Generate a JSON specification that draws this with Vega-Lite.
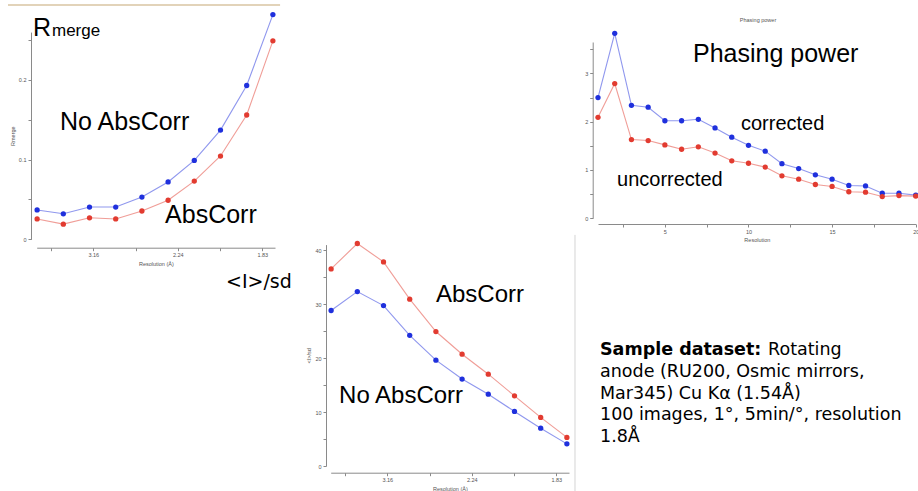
{
  "$schema": "https://vega.github.io/schema/vega-lite/v6.json",
  "width": 918,
  "height": 491,
  "autosize": "none",
  "padding": 0,
  "background": "white",
  "config": {
    "view": {"stroke": null},
    "font": "Liberation Sans",
    "axis": {
      "grid": false,
      "domainColor": "#8a8a8a",
      "tickColor": "#8a8a8a",
      "tickSize": 3,
      "labelFontSize": 5.5,
      "labelColor": "#555555",
      "labelPadding": 2,
      "titleFontSize": 5.5,
      "titleFontWeight": "normal",
      "titleColor": "#555555",
      "titlePadding": 3,
      "labelOverlap": false,
      "labelBound": false,
      "labelFlush": false
    }
  },
  "datasets": {
    "rmerge": [
      {"inv_d2": 0.0335, "rmerge": 0.0368, "series": "No AbsCorr"},
      {"inv_d2": 0.0645, "rmerge": 0.032, "series": "No AbsCorr"},
      {"inv_d2": 0.0955, "rmerge": 0.0405, "series": "No AbsCorr"},
      {"inv_d2": 0.1265, "rmerge": 0.0405, "series": "No AbsCorr"},
      {"inv_d2": 0.1575, "rmerge": 0.053, "series": "No AbsCorr"},
      {"inv_d2": 0.1885, "rmerge": 0.072, "series": "No AbsCorr"},
      {"inv_d2": 0.2195, "rmerge": 0.099, "series": "No AbsCorr"},
      {"inv_d2": 0.2505, "rmerge": 0.137, "series": "No AbsCorr"},
      {"inv_d2": 0.2815, "rmerge": 0.193, "series": "No AbsCorr"},
      {"inv_d2": 0.3125, "rmerge": 0.282, "series": "No AbsCorr"},
      {"inv_d2": 0.0335, "rmerge": 0.0255, "series": "AbsCorr"},
      {"inv_d2": 0.0645, "rmerge": 0.019, "series": "AbsCorr"},
      {"inv_d2": 0.0955, "rmerge": 0.027, "series": "AbsCorr"},
      {"inv_d2": 0.1265, "rmerge": 0.0255, "series": "AbsCorr"},
      {"inv_d2": 0.1575, "rmerge": 0.0355, "series": "AbsCorr"},
      {"inv_d2": 0.1885, "rmerge": 0.049, "series": "AbsCorr"},
      {"inv_d2": 0.2195, "rmerge": 0.073, "series": "AbsCorr"},
      {"inv_d2": 0.2505, "rmerge": 0.1045, "series": "AbsCorr"},
      {"inv_d2": 0.2815, "rmerge": 0.156, "series": "AbsCorr"},
      {"inv_d2": 0.3125, "rmerge": 0.249, "series": "AbsCorr"}
    ],
    "rmerge_big": [
      {"label": "R", "inv_d2": 0.0286, "rmerge": 0.2555},
      {"label": "No AbsCorr", "inv_d2": 0.0606, "rmerge": 0.137},
      {"label": "AbsCorr", "inv_d2": 0.1849, "rmerge": 0.02}
    ],
    "rmerge_sub": [
      {"label": "merge", "inv_d2": 0.0511, "rmerge": 0.2555}
    ],
    "rmerge_frame": [
      {"inv_d2": -0.001, "inv_d2_end": 0.321, "rmerge": 0.294}
    ],
    "phasing": [
      {"bin": 1, "phasing_power": 2.5, "series": "corrected"},
      {"bin": 2, "phasing_power": 3.83, "series": "corrected"},
      {"bin": 3, "phasing_power": 2.34, "series": "corrected"},
      {"bin": 4, "phasing_power": 2.3, "series": "corrected"},
      {"bin": 5, "phasing_power": 2.02, "series": "corrected"},
      {"bin": 6, "phasing_power": 2.02, "series": "corrected"},
      {"bin": 7, "phasing_power": 2.05, "series": "corrected"},
      {"bin": 8, "phasing_power": 1.87, "series": "corrected"},
      {"bin": 9, "phasing_power": 1.68, "series": "corrected"},
      {"bin": 10, "phasing_power": 1.51, "series": "corrected"},
      {"bin": 11, "phasing_power": 1.39, "series": "corrected"},
      {"bin": 12, "phasing_power": 1.13, "series": "corrected"},
      {"bin": 13, "phasing_power": 1.03, "series": "corrected"},
      {"bin": 14, "phasing_power": 0.9, "series": "corrected"},
      {"bin": 15, "phasing_power": 0.81, "series": "corrected"},
      {"bin": 16, "phasing_power": 0.68, "series": "corrected"},
      {"bin": 17, "phasing_power": 0.67, "series": "corrected"},
      {"bin": 18, "phasing_power": 0.52, "series": "corrected"},
      {"bin": 19, "phasing_power": 0.52, "series": "corrected"},
      {"bin": 20, "phasing_power": 0.48, "series": "corrected"},
      {"bin": 1, "phasing_power": 2.09, "series": "uncorrected"},
      {"bin": 2, "phasing_power": 2.79, "series": "uncorrected"},
      {"bin": 3, "phasing_power": 1.63, "series": "uncorrected"},
      {"bin": 4, "phasing_power": 1.61, "series": "uncorrected"},
      {"bin": 5, "phasing_power": 1.52, "series": "uncorrected"},
      {"bin": 6, "phasing_power": 1.43, "series": "uncorrected"},
      {"bin": 7, "phasing_power": 1.48, "series": "uncorrected"},
      {"bin": 8, "phasing_power": 1.35, "series": "uncorrected"},
      {"bin": 9, "phasing_power": 1.19, "series": "uncorrected"},
      {"bin": 10, "phasing_power": 1.14, "series": "uncorrected"},
      {"bin": 11, "phasing_power": 1.06, "series": "uncorrected"},
      {"bin": 12, "phasing_power": 0.88, "series": "uncorrected"},
      {"bin": 13, "phasing_power": 0.81, "series": "uncorrected"},
      {"bin": 14, "phasing_power": 0.7, "series": "uncorrected"},
      {"bin": 15, "phasing_power": 0.66, "series": "uncorrected"},
      {"bin": 16, "phasing_power": 0.55, "series": "uncorrected"},
      {"bin": 17, "phasing_power": 0.54, "series": "uncorrected"},
      {"bin": 18, "phasing_power": 0.45, "series": "uncorrected"},
      {"bin": 19, "phasing_power": 0.47, "series": "uncorrected"},
      {"bin": 20, "phasing_power": 0.46, "series": "uncorrected"}
    ],
    "phasing_big": [
      {"label": "Phasing power", "bin": 6.68, "phasing_power": 3.24}
    ],
    "phasing_mid": [
      {"label": "corrected", "bin": 9.55, "phasing_power": 1.83},
      {"label": "uncorrected", "bin": 2.14, "phasing_power": 0.67}
    ],
    "phasing_title": [
      {"label": "Phasing power", "bin": 10.57, "phasing_power": 4.07}
    ],
    "note_bold": [
      {"label": "Sample dataset:", "bin": 1.12, "phasing_power": -2.83}
    ],
    "note_text": [
      {"label": "Rotating", "bin": 11.17, "phasing_power": -2.83},
      {"label": "anode (RU200, Osmic mirrors,", "bin": 1.12, "phasing_power": -3.286},
      {"label": "Mar345)  Cu Kα (1.54Å)", "bin": 1.12, "phasing_power": -3.741},
      {"label": "100 images, 1°, 5min/°, resolution", "bin": 1.12, "phasing_power": -4.176},
      {"label": "1.8Å", "bin": 1.12, "phasing_power": -4.631}
    ],
    "isd": [
      {"inv_d2": 0.0335, "i_sigma": 36.5, "series": "AbsCorr"},
      {"inv_d2": 0.0645, "i_sigma": 41.2, "series": "AbsCorr"},
      {"inv_d2": 0.0955, "i_sigma": 37.8, "series": "AbsCorr"},
      {"inv_d2": 0.1265, "i_sigma": 30.9, "series": "AbsCorr"},
      {"inv_d2": 0.1575, "i_sigma": 24.9, "series": "AbsCorr"},
      {"inv_d2": 0.1885, "i_sigma": 20.7, "series": "AbsCorr"},
      {"inv_d2": 0.2195, "i_sigma": 17.0, "series": "AbsCorr"},
      {"inv_d2": 0.2505, "i_sigma": 13.0, "series": "AbsCorr"},
      {"inv_d2": 0.2815, "i_sigma": 9.0, "series": "AbsCorr"},
      {"inv_d2": 0.3125, "i_sigma": 5.3, "series": "AbsCorr"},
      {"inv_d2": 0.0335, "i_sigma": 28.8, "series": "No AbsCorr"},
      {"inv_d2": 0.0645, "i_sigma": 32.3, "series": "No AbsCorr"},
      {"inv_d2": 0.0955, "i_sigma": 29.7, "series": "No AbsCorr"},
      {"inv_d2": 0.1265, "i_sigma": 24.2, "series": "No AbsCorr"},
      {"inv_d2": 0.1575, "i_sigma": 19.6, "series": "No AbsCorr"},
      {"inv_d2": 0.1885, "i_sigma": 16.1, "series": "No AbsCorr"},
      {"inv_d2": 0.2195, "i_sigma": 13.3, "series": "No AbsCorr"},
      {"inv_d2": 0.2505, "i_sigma": 10.1, "series": "No AbsCorr"},
      {"inv_d2": 0.2815, "i_sigma": 7.0, "series": "No AbsCorr"},
      {"inv_d2": 0.3125, "i_sigma": 4.1, "series": "No AbsCorr"}
    ],
    "isd_big": [
      {"label": "AbsCorr", "inv_d2": 0.1576, "i_sigma": 30.4},
      {"label": "No AbsCorr", "inv_d2": 0.0429, "i_sigma": 11.6}
    ],
    "isd_label": [
      {"label": "<I>/sd", "inv_d2": -0.0909, "i_sigma": 33.0}
    ],
    "isd_divider": [
      {"inv_d2": 0.3221, "i_sigma": 42.8, "i_sigma_end": -4.63}
    ]
  },
  "resolve": {
    "scale": {"x": "independent", "y": "independent", "color": "independent"},
    "axis": {"x": "independent", "y": "independent"}
  },
  "layer": [
    {
      "data": {"name": "rmerge"},
      "encoding": {
        "x": {
          "field": "inv_d2", "type": "quantitative",
          "scale": {"domain": [0.033, 0.315], "range": [36.7, 275], "nice": false, "zero": false},
          "axis": {
            "orient": "bottom", "offset": -243.3, "title": "Resolution (Å)",
            "values": [0.05, 0.1, 0.15, 0.2, 0.25, 0.3],
            "labelExpr": "abs(datum.value*10 - round(datum.value*10)) < 0.001 ? format(1/sqrt(datum.value), '.2f') : ''"
          }
        },
        "y": {
          "field": "rmerge", "type": "quantitative",
          "scale": {"domain": [0, 0.26], "range": [239.3, 32.1], "nice": false, "zero": false},
          "axis": {
            "orient": "left", "offset": -31, "title": "Rmerge",
            "values": [0, 0.05, 0.1, 0.15, 0.2, 0.25],
            "labelExpr": "abs(datum.value*10 - round(datum.value*10)) < 0.001 ? format(datum.value, '.1~f') : ''"
          }
        }
      },
      "layer": [
        {
          "mark": {"type": "line", "strokeWidth": 1.1, "opacity": 0.5},
          "encoding": {"color": {"field": "series", "type": "nominal", "scale": {"domain": ["No AbsCorr", "AbsCorr"], "range": ["#1f30dd", "#e23b30"]}, "legend": null}}
        },
        {
          "mark": {"type": "point", "filled": true, "size": 28, "opacity": 1},
          "encoding": {"color": {"field": "series", "type": "nominal", "scale": {"domain": ["No AbsCorr", "AbsCorr"], "range": ["#1f30dd", "#e23b30"]}, "legend": null}}
        },
        {
          "data": {"name": "rmerge_big"},
          "mark": {"type": "text", "fontSize": 25, "align": "left", "baseline": "alphabetic", "color": "#000000"},
          "encoding": {"text": {"field": "label"}}
        },
        {
          "data": {"name": "rmerge_sub"},
          "mark": {"type": "text", "fontSize": 17, "align": "left", "baseline": "alphabetic", "color": "#000000"},
          "encoding": {"text": {"field": "label"}}
        },
        {
          "data": {"name": "rmerge_frame"},
          "mark": {"type": "rule", "color": "#d9c4a2", "strokeWidth": 1.5},
          "encoding": {"x2": {"field": "inv_d2_end"}}
        }
      ]
    },
    {
      "data": {"name": "phasing"},
      "encoding": {
        "x": {
          "field": "bin", "type": "quantitative",
          "scale": {"domain": [1, 20], "range": [598, 915.7], "nice": false, "zero": false},
          "axis": {
            "orient": "bottom", "offset": -267, "title": "Resolution",
            "values": [2.5, 5, 7.5, 10, 12.5, 15, 17.5, 20],
            "labelExpr": "datum.value % 5 == 0 ? format(datum.value, 'd') : ''"
          }
        },
        "y": {
          "field": "phasing_power", "type": "quantitative",
          "scale": {"domain": [0, 3.65], "range": [218.3, 42], "nice": false, "zero": false},
          "axis": {
            "orient": "left", "offset": -592.7, "title": null,
            "values": [0, 0.5, 1, 1.5, 2, 2.5, 3, 3.5],
            "labelExpr": "datum.value % 1 == 0 ? format(datum.value, 'd') : ''"
          }
        }
      },
      "layer": [
        {
          "mark": {"type": "line", "strokeWidth": 1.1, "opacity": 0.5},
          "encoding": {"color": {"field": "series", "type": "nominal", "scale": {"domain": ["corrected", "uncorrected"], "range": ["#1f30dd", "#e23b30"]}, "legend": null}}
        },
        {
          "mark": {"type": "point", "filled": true, "size": 28, "opacity": 1},
          "encoding": {"color": {"field": "series", "type": "nominal", "scale": {"domain": ["corrected", "uncorrected"], "range": ["#1f30dd", "#e23b30"]}, "legend": null}}
        },
        {
          "data": {"name": "phasing_big"},
          "mark": {"type": "text", "fontSize": 25, "align": "left", "baseline": "alphabetic", "color": "#000000"},
          "encoding": {"text": {"field": "label"}}
        },
        {
          "data": {"name": "phasing_mid"},
          "mark": {"type": "text", "fontSize": 20, "align": "left", "baseline": "alphabetic", "color": "#000000"},
          "encoding": {"text": {"field": "label"}}
        },
        {
          "data": {"name": "phasing_title"},
          "mark": {"type": "text", "fontSize": 5.5, "align": "center", "baseline": "alphabetic", "color": "#555555"},
          "encoding": {"text": {"field": "label"}}
        },
        {
          "data": {"name": "note_bold"},
          "mark": {"type": "text", "font": "DejaVu Sans", "fontWeight": "bold", "fontSize": 17.5, "align": "left", "baseline": "alphabetic", "color": "#000000"},
          "encoding": {"text": {"field": "label"}}
        },
        {
          "data": {"name": "note_text"},
          "mark": {"type": "text", "font": "DejaVu Sans", "fontSize": 17.5, "align": "left", "baseline": "alphabetic", "color": "#000000"},
          "encoding": {"text": {"field": "label"}}
        }
      ]
    },
    {
      "data": {"name": "isd"},
      "encoding": {
        "x": {
          "field": "inv_d2", "type": "quantitative",
          "scale": {"domain": [0.033, 0.315], "range": [330.7, 569], "nice": false, "zero": false},
          "axis": {
            "orient": "bottom", "offset": -18.3, "title": "Resolution (Å)",
            "values": [0.05, 0.1, 0.15, 0.2, 0.25, 0.3],
            "labelExpr": "abs(datum.value*10 - round(datum.value*10)) < 0.001 ? format(1/sqrt(datum.value), '.2f') : ''"
          }
        },
        "y": {
          "field": "i_sigma", "type": "quantitative",
          "scale": {"domain": [0, 41], "range": [466, 244.6], "nice": false, "zero": false},
          "axis": {
            "orient": "left", "offset": -326, "title": "<I>/sd",
            "values": [0, 5, 10, 15, 20, 25, 30, 35, 40],
            "labelExpr": "datum.value % 10 == 0 ? format(datum.value, 'd') : ''"
          }
        }
      },
      "layer": [
        {
          "mark": {"type": "line", "strokeWidth": 1.1, "opacity": 0.5},
          "encoding": {"color": {"field": "series", "type": "nominal", "scale": {"domain": ["No AbsCorr", "AbsCorr"], "range": ["#1f30dd", "#e23b30"]}, "legend": null}}
        },
        {
          "mark": {"type": "point", "filled": true, "size": 28, "opacity": 1},
          "encoding": {"color": {"field": "series", "type": "nominal", "scale": {"domain": ["No AbsCorr", "AbsCorr"], "range": ["#1f30dd", "#e23b30"]}, "legend": null}}
        },
        {
          "data": {"name": "isd_big"},
          "mark": {"type": "text", "fontSize": 24, "align": "left", "baseline": "alphabetic", "color": "#000000"},
          "encoding": {"text": {"field": "label"}}
        },
        {
          "data": {"name": "isd_label"},
          "mark": {"type": "text", "font": "DejaVu Sans", "fontSize": 19, "align": "left", "baseline": "alphabetic", "color": "#000000"},
          "encoding": {"text": {"field": "label"}}
        },
        {
          "data": {"name": "isd_divider"},
          "mark": {"type": "rule", "color": "#d4d4d4", "strokeWidth": 1},
          "encoding": {"y2": {"field": "i_sigma_end"}}
        }
      ]
    }
  ]
}
